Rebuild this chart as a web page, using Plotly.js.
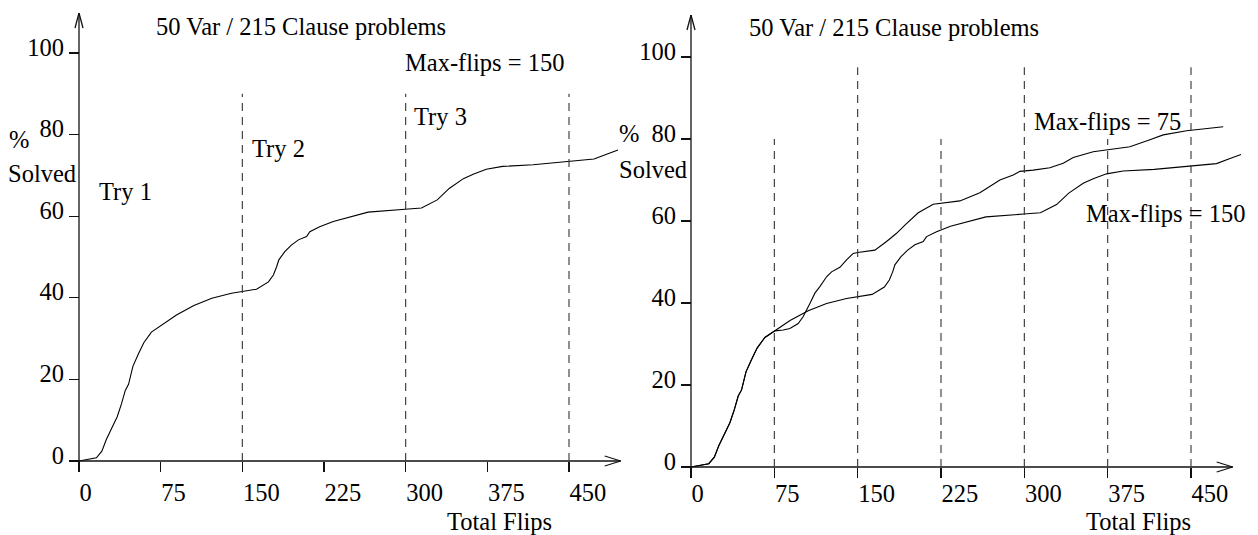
<!DOCTYPE html>
<html>
<head>
<meta charset="utf-8">
<script src="https://cdn.plot.ly/plotly-3.0.1.min.js"></script>
<style>html,body{margin:0;padding:0;background:#fff;}#chart{width:1258px;height:535px;}</style>
</head>
<body>
<div id="chart"></div>
<script>
// ---- data ----
const tickValues = [0, 75, 150, 225, 300, 375, 450];
const tickLabels = ["0", "75", "150", "225", "300", "375", "450"];
const yTickValues = [0, 20, 40, 60, 80, 100];
const yTickLabels = ["0", "20", "40", "60", "80", "100"];

// Max-flips = 150 (% solved vs total flips)
const flips150 = [0, 16, 21, 25, 30, 35, 39, 42.5, 45.5, 49.5, 54.5, 59.5, 66.5, 75.5, 89.5, 105.5, 122, 140, 150, 163, 174, 178.5, 181.5, 183.5, 189, 195, 201.5, 209, 212, 221, 233.5, 249, 265.5, 299.5, 314.5, 329, 340, 353, 362, 374, 389, 417, 449.5, 473, 484.5, 495];
const solved150 = [0, 0.8, 2.4, 5.2, 8, 10.8, 14, 17.3, 18.8, 23.2, 26.2, 29, 31.6, 33.2, 35.8, 38.1, 39.9, 41.1, 41.5, 42.1, 43.9, 45.6, 47.6, 49.3, 51.3, 52.9, 54.2, 55, 56.2, 57.4, 58.7, 59.9, 61, 61.7, 62, 64, 66.8, 69.2, 70.3, 71.5, 72.2, 72.6, 73.4, 74, 75.2, 76.2];

// Max-flips = 75
const flips75 = [0, 16, 21, 25, 30, 35, 39, 42.5, 45.5, 49.5, 54.5, 59.5, 66.5, 75.5, 83, 89, 96.5, 101, 107, 111.5, 116, 122, 126.5, 134, 140, 146, 150, 165.5, 176, 185, 192.5, 204.5, 218, 225.5, 242, 260, 278, 290, 296, 308, 323, 335, 344, 362, 374, 395, 413, 425, 446, 479];
const solved75 = [0, 0.8, 2.4, 5.2, 8, 10.8, 14, 17.3, 18.8, 23.2, 26.2, 29, 31.6, 33.2, 33.4, 33.8, 35, 36.7, 39.9, 42.4, 44, 46.4, 47.6, 48.7, 50.5, 52.1, 52.3, 52.9, 55, 57, 59, 62, 64.1, 64.3, 64.9, 66.9, 70, 71.2, 72.1, 72.4, 73, 74.1, 75.5, 76.9, 77.3, 78.1, 79.8, 81, 82, 83];

// restart points (dashed lines)
const restarts150 = [150, 300, 450];
const restarts75 = [75, 225, 375];

// ---- layout helpers ----
const W = 1258, H = 535;
const FONT = "Liberation Serif, Times New Roman, serif";
const FS = 24.5;
const fx = p => p / W;
const fy = p => 1 - p / H;

// panel geometry (pixels): origin and scale
const P1 = {ox: 79, oy: 461, sx: 490 / 450, sy: 408 / 100, left: 50, right: 630, bot: 472, top: 13, xStand: 10};
const P2 = {ox: 691, oy: 467, sx: 500 / 450, sy: 410 / 100, left: 660, right: 1250, bot: 477, top: 15, xStand: 5};

function xAxis(P) {
  return {
    domain: [fx(P.left), fx(P.right)],
    range: [(P.left - P.ox) / P.sx, (P.right - P.ox) / P.sx],
    anchor: 'free', position: fy(P.oy),
    showline: false, zeroline: false, showgrid: false,
    ticks: 'outside', ticklen: 10, tickwidth: 1.2, tickcolor: '#111',
    tickvals: tickValues, ticktext: tickLabels,
    ticklabelposition: 'outside right',
    ticklabelstandoff: P.xStand,
    tickfont: {family: FONT, size: FS, color: '#000'},
    fixedrange: true
  };
}
function yAxis(P) {
  return {
    domain: [fy(P.bot), fy(P.top)],
    range: [(P.oy - P.bot) / P.sy, (P.oy - P.top) / P.sy],
    anchor: 'free', position: fx(P.ox),
    showline: false, zeroline: false, showgrid: false,
    ticks: 'outside', ticklen: 10, tickwidth: 1.2, tickcolor: '#111',
    tickvals: yTickValues, ticktext: yTickLabels,
    ticklabelshift: -6,
    tickfont: {family: FONT, size: FS, color: '#000'},
    fixedrange: true
  };
}

const shapes = [];
function axisShapes(P, xr, yr) {
  const xMin = -10 / P.sx, xMax = 541.7 / P.sx;
  const yMin = (P.oy - P.bot) / P.sy, yMax = (P.oy - P.top) / P.sy;
  const ln = {color: '#111', width: 1.3};
  shapes.push({type: 'line', xref: xr, yref: yr, x0: xMin, x1: xMax, y0: 0, y1: 0, line: ln});
  shapes.push({type: 'line', xref: xr, yref: yr, x0: 0, x1: 0, y0: yMin, y1: yMax, line: ln});
  // x arrow head ">"
  const ax = 16 / P.sx, ay = 5 / P.sy;
  shapes.push({type: 'line', xref: xr, yref: yr, x0: xMax - ax, x1: xMax, y0: ay, y1: 0, line: ln});
  shapes.push({type: 'line', xref: xr, yref: yr, x0: xMax - ax, x1: xMax, y0: -ay, y1: 0, line: ln});
  // y arrow head "^"
  const bx = 4 / P.sx, by = 15 / P.sy;
  shapes.push({type: 'line', xref: xr, yref: yr, x0: -bx, x1: 0, y0: yMax - by, y1: yMax, line: ln});
  shapes.push({type: 'line', xref: xr, yref: yr, x0: bx, x1: 0, y0: yMax - by, y1: yMax, line: ln});
}
function dashShapes(xs, top, xr, yr) {
  xs.forEach(v => shapes.push({type: 'line', xref: xr, yref: yr, x0: v, x1: v, y0: 0, y1: top,
    line: {color: '#333', width: 1.1, dash: '8px,6px'}}));
}
axisShapes(P1, 'x', 'y');
axisShapes(P2, 'x2', 'y2');
dashShapes(restarts150, 90, 'x', 'y');
dashShapes(restarts150, 97.5, 'x2', 'y2');
dashShapes(restarts75, 80, 'x2', 'y2');

function label(text, left, cy) {
  return {text: text, xref: 'paper', yref: 'paper', x: fx(left), y: fy(cy),
    xanchor: 'left', yanchor: 'middle', showarrow: false, borderpad: 0,
    font: {family: FONT, size: FS, color: '#000'}};
}
const annotations = [
  label('50 Var / 215 Clause problems', 155, 26),
  label('Max-flips = 150', 404, 62),
  label('Try 1', 98, 192),
  label('Try 2', 251, 148),
  label('Try 3', 413, 117),
  label('%', 8, 139),
  label('Solved', 7, 173),
  label('Total Flips', 446, 521),
  label('50 Var / 215 Clause problems', 748, 28),
  label('Max-flips = 75', 1033, 122),
  label('Max-flips = 150', 1085, 213),
  label('%', 618, 133),
  label('Solved', 618, 169),
  label('Total Flips', 1085, 521)
];

const lineStyle = {color: '#000', width: 1.1};
const traces = [
  {x: flips150, y: solved150, xaxis: 'x', yaxis: 'y', mode: 'lines', line: lineStyle, name: 'Max-flips = 150', hoverinfo: 'skip'},
  {x: flips150, y: solved150, xaxis: 'x2', yaxis: 'y2', mode: 'lines', line: lineStyle, name: 'Max-flips = 150', hoverinfo: 'skip'},
  {x: flips75, y: solved75, xaxis: 'x2', yaxis: 'y2', mode: 'lines', line: lineStyle, name: 'Max-flips = 75', hoverinfo: 'skip'}
];

const layout = {
  width: W, height: H,
  margin: {l: 0, r: 0, t: 0, b: 0},
  paper_bgcolor: '#fff', plot_bgcolor: 'rgba(0,0,0,0)',
  showlegend: false,
  font: {family: FONT, size: FS, color: '#000'},
  xaxis: xAxis(P1), yaxis: yAxis(P1),
  xaxis2: xAxis(P2), yaxis2: yAxis(P2),
  shapes: shapes, annotations: annotations
};
Plotly.newPlot('chart', traces, layout, {staticPlot: true, displayModeBar: false});
</script>
</body>
</html>
